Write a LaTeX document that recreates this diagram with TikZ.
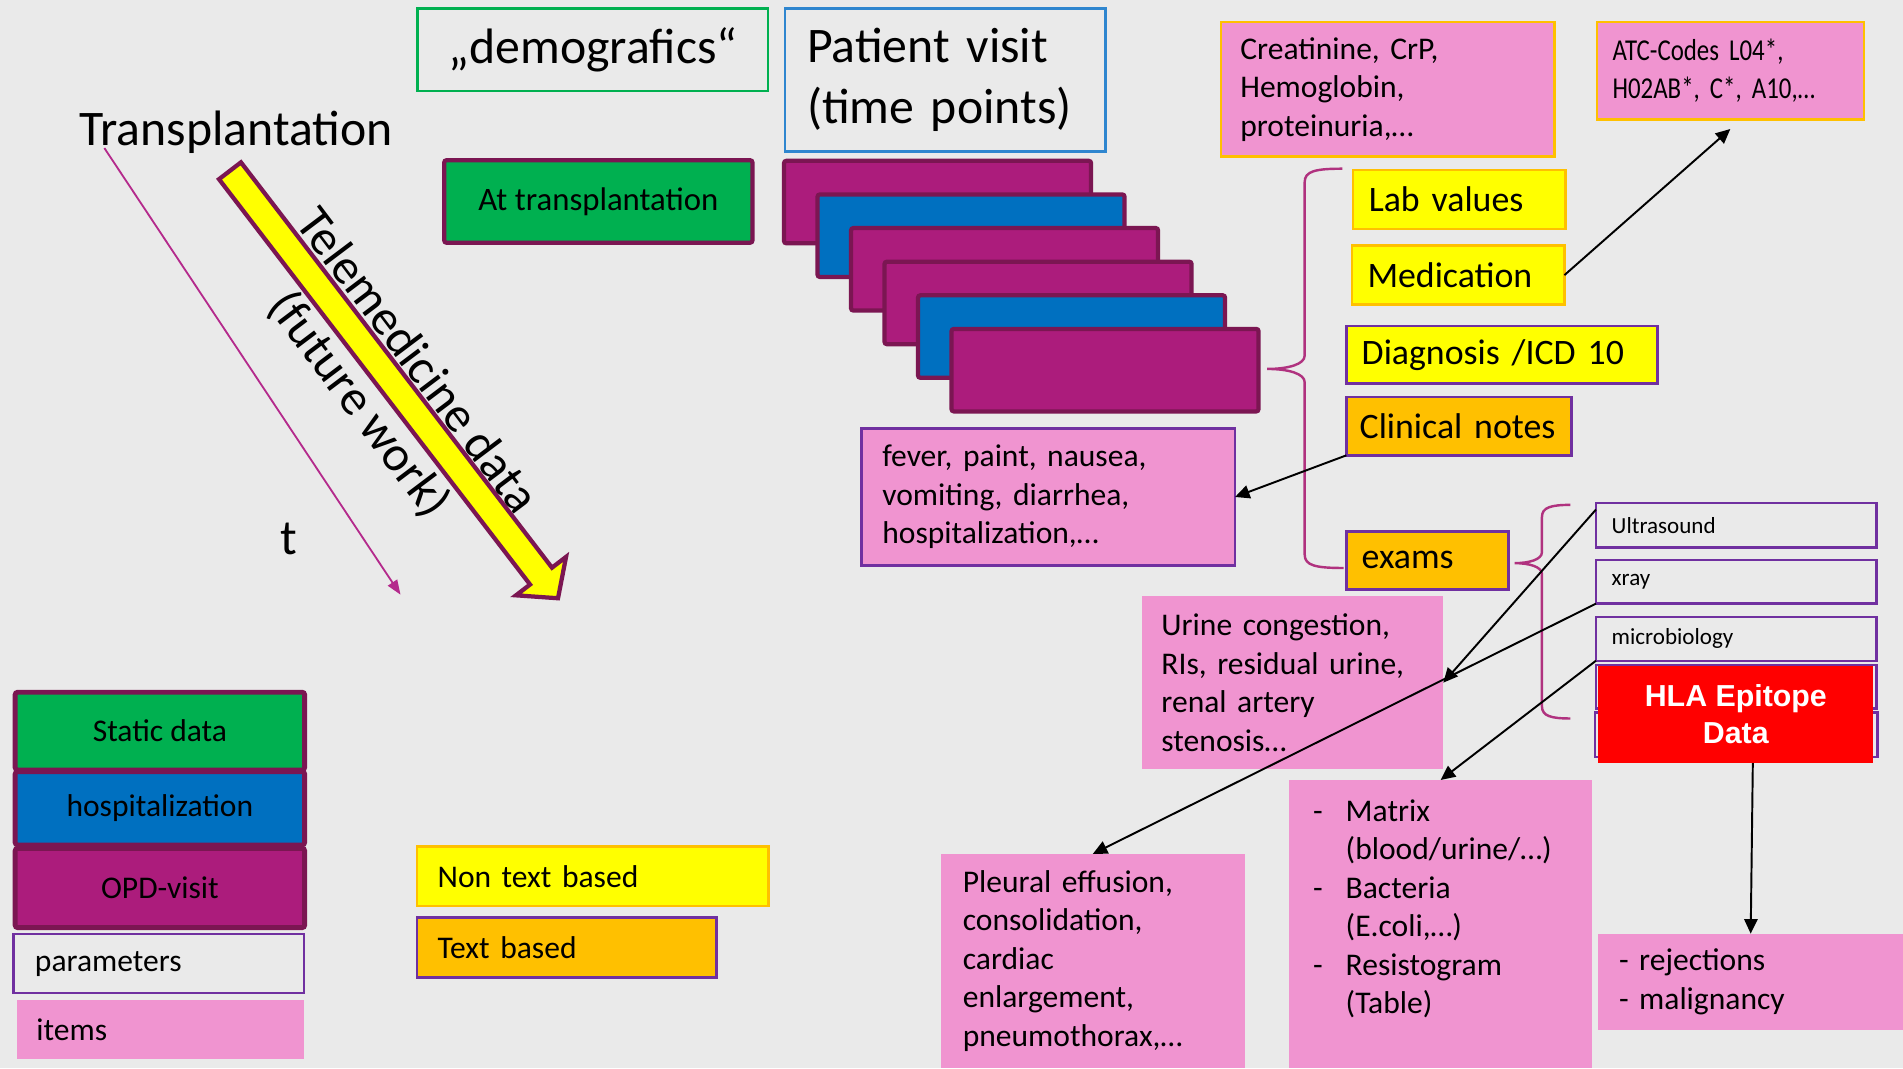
\documentclass[tikz,border=0pt]{standalone}
\usepackage{fontspec}
\setmainfont{Carlito}
\newfontfamily\hlafont{Liberation Sans}
\newfontfamily\narrowfont{Carlito}[FakeStretch=0.82]
\usetikzlibrary{arrows.meta}

\definecolor{bggray}{HTML}{EAEAEA}
\definecolor{stat}{HTML}{00B050}
\definecolor{hosp}{HTML}{0070C0}
\definecolor{opd}{HTML}{AC1C7C}
\definecolor{opdline}{HTML}{7B1652}
\definecolor{itempink}{HTML}{F094D0}
\definecolor{paraline}{HTML}{7030A0}
\definecolor{amber}{HTML}{FFC000}
\definecolor{yel}{HTML}{FFFF00}
\definecolor{bracecol}{HTML}{B0327F}
\definecolor{tline}{HTML}{B42A8C}
\definecolor{visitline}{HTML}{2F86CF}

\newcommand{\listdash}{\makebox[26.8pt][l]{-}}
\newcommand{\listgap}{\hspace*{26.8pt}}

\begin{document}
\begin{tikzpicture}[x=1pt,y=-1pt,>=Stealth,
  fbig/.style={font=\fontsize{41}{50}\selectfont},
  fmid/.style={font=\fontsize{29.5}{36}\selectfont},
  ftxt/.style={font=\fontsize{26}{31.7}\selectfont},
  fsmall/.style={font=\fontsize{19}{23}\selectfont},
  panel/.style={rectangle,anchor=north west,inner sep=0pt,outer sep=0pt},
  item/.style={panel,fill=itempink},
  param/.style={panel,draw=paraline,line width=2pt},
  legendbox/.style={panel,draw=opdline,line width=4pt,rounded corners=2pt,minimum width=238.5pt},
  conn/.style={-{Triangle[length=12pt,width=11pt]},line width=1.6pt,black},
  tarrow/.style={-{Triangle[length=12pt,width=9pt]},line width=1.5pt,tline}]

  \useasboundingbox (0,0) rectangle (1568,880);
  \fill[bggray] (0,0) rectangle (1568,880);

  % time axis and telemedicine arrow
  \node[fbig,anchor=base west,inner sep=0pt] (tx) at (65,120) {Transplantation};
  \node[fbig,anchor=base west,inner sep=0pt] (tlab) at (231,457) {t};
  \coordinate (tstart) at (86,122);
  \coordinate (tend) at (330,490);
  \draw[tarrow] (tstart) -- (tend);

  \begin{scope}[shift={(189.5,140.7)},rotate=-52.5]
    \draw[fill=yel,draw=opdline,line width=3.5pt] (0,-11.4) -- (421,-11.4) -- (421,-26) -- (444,0)
      -- (421,26) -- (421,11.4) -- (0,11.4) -- cycle;
  \end{scope}
  \node[rotate=-53,align=center,font=\fontsize{41}{60}\selectfont] (tele) at (319,316)
    {Telemedicine data\\(future work)};

  % headers
  \node[panel,draw=stat,line width=2pt,minimum width=289pt,minimum height=68pt,fbig] (demo) at (344,7) {„demografics“};
  \node[panel,draw=visitline,line width=2pt,minimum height=118pt,text width=228pt,inner xsep=18pt,align=left,fbig] (visit) at (647,7)
    {Patient visit\\(time points)};
  \node[panel,fill=stat,draw=opdline,line width=3.5pt,rounded corners=2pt,minimum width=254pt,minimum height=68pt,
    font=\fontsize{27}{33}\selectfont] (atx) at (366,132) {At transplantation};

  % stack of visits
  \foreach \c [count=\i from 0] in {opd,hosp,opd,opd,hosp,opd}
    \node[panel,fill=\c,draw=opdline,line width=3.5pt,rounded corners=2pt,minimum width=253pt,minimum height=68pt]
      (v\i) at (646+27.6*\i,132.5+27.7*\i) {};

  \node[item,draw=paraline,line width=2pt,text width=273.6pt,inner xsep=17pt,minimum height=113pt,align=left,ftxt] (fever) at (710,353)
    {fever, paint, nausea,\\vomiting, diarrhea,\\hospitalization,…};

  % data types
  \node[item,draw=amber,line width=2pt,text width=242.7pt,inner xsep=16pt,minimum height=111pt,align=left,ftxt] (creat) at (1006,18)
    {Creatinine, CrP,\\Hemoglobin,\\proteinuria,…};
  \node[item,draw=amber,line width=2pt,text width=194pt,inner xsep=13pt,minimum height=80pt,align=left,
    font=\narrowfont\fontsize{25}{31}\selectfont] (atc) at (1315.7,18.3) {ATC-Codes L04*,\\H02AB*, C*, A10,…};

  \node[panel,fill=yel,draw=amber,line width=2pt,text width=149.4pt,inner xsep=12.8pt,minimum height=48.3pt,align=left,fmid] (lab) at (1115,140.3) {Lab values};
  \node[panel,fill=yel,draw=amber,line width=2pt,text width=149.4pt,inner xsep=12.8pt,minimum height=48.6pt,align=left,fmid] (med) at (1114,202.4) {Medication};
  \node[panel,fill=yel,draw=paraline,line width=2pt,text width=231pt,inner xsep=12.7pt,minimum height=47.4pt,align=left,fmid] (diag) at (1109.3,268.6) {Diagnosis /ICD 10};
  \node[panel,fill=amber,draw=paraline,line width=2pt,text width=163.4pt,inner xsep=11pt,minimum height=48pt,align=left,fmid] (clin) at (1109.3,327.2) {Clinical notes};
  \node[panel,fill=amber,draw=paraline,line width=2pt,text width=108.6pt,inner xsep=12.4pt,minimum height=47.9pt,align=left,fmid] (exams) at (1109.6,437.8) {exams};

  % exams
  \node[param,text width=205pt,inner xsep=13pt,minimum height=36.5pt,align=left,fsmall] (us) at (1315,414.6) {Ultrasound};
  \node[param,text width=205pt,inner xsep=13pt,minimum height=36.1pt,align=left,fsmall] (xr) at (1315,461.3) {xray};
  \node[param,text width=205pt,inner xsep=13pt,minimum height=35.9pt,align=left,fsmall] (mb) at (1315,508.5) {microbiology};
  \node[param,minimum width=231pt,minimum height=35.6pt] (p4) at (1315,548) {};
  \node[param,minimum width=233pt,minimum height=36.3pt] (p5) at (1314,587.2) {};
  \node[panel,fill=red,text=white,minimum width=226.5pt,minimum height=80.3pt,align=center,
    font=\hlafont\bfseries\fontsize{25}{31}\selectfont] (hla) at (1317,548.4) {HLA Epitope\\Data};

  \node[item,text width=216.2pt,inner xsep=16pt,minimum height=143pt,align=left,ftxt] (urine) at (941,491)
    {Urine congestion,\\RIs, residual urine,\\renal artery\\stenosis…};
  \node[item,text width=214.2pt,inner xsep=18pt,minimum height=176.4pt,align=left,ftxt] (pleu) at (775.3,703.6)
    {Pleural effusion,\\consolidation,\\cardiac\\enlargement,\\pneumothorax,…};
  \node[item,minimum width=249.4pt,minimum height=237.3pt,ftxt] (mat) at (1062.3,642.7)
    {\parbox[c][237.3pt][t]{210pt}{\vspace*{12pt}\strut\listdash Matrix\\\listgap(blood/urine/…)\\\listdash Bacteria\\
      \listgap(E.coli,…)\\\listdash Resistogram\\\listgap(Table)}};
  \node[item,text width=217pt,inner xsep=17pt,minimum height=79.7pt,align=left,ftxt] (rej) at (1317,769.3)
    {- rejections\\- malignancy};

  % braces
  \draw[bracecol,line width=2pt] (1106,139) .. controls (1084,139) and (1075,141) .. (1075,150) -- (1075,293)
    .. controls (1075,300) and (1062,304) .. (1044,304) .. controls (1062,304) and (1075,308) .. (1075,315)
    -- (1075,457) .. controls (1075,466) and (1084,468) .. (1107,468);
  \draw[bracecol,line width=2pt] (1294,416) .. controls (1278,416) and (1270.5,418) .. (1270.5,426) -- (1270.5,455)
    .. controls (1270.5,461) and (1260,464) .. (1248,464) .. controls (1260,464) and (1270.5,467) .. (1270.5,473)
    -- (1270.5,582) .. controls (1270.5,590) and (1278,592) .. (1294,592);

  % legend
  \node[legendbox,fill=stat,minimum height=64pt,ftxt] (lstat) at (12.5,570.4) {Static data};
  \node[legendbox,fill=hosp,minimum height=60.4pt,ftxt] (lhosp) at (12.5,635.8) {hospitalization};
  \node[legendbox,fill=opd,minimum height=65.3pt,ftxt] (lopd) at (12.5,699) {OPD-visit};
  \node[param,text width=204pt,inner xsep=17.8pt,minimum height=48.9pt,align=left,ftxt] (lpar) at (11,769.5) {parameters};
  \node[item,text width=204.6pt,inner xsep=16pt,minimum height=48.8pt,align=left,ftxt] (litem) at (14,824) {items};
  \node[panel,fill=yel,draw=amber,line width=2pt,text width=255.6pt,inner xsep=17pt,minimum height=48.9pt,align=left,ftxt] (lnon) at (343.6,697.6) {Non text based};
  \node[panel,fill=amber,draw=paraline,line width=2pt,text width=212.7pt,inner xsep=17pt,minimum height=49.3pt,align=left,ftxt] (ltxt) at (343.6,756) {Text based};

  % connectors
  \draw[conn] (med.east) -- ([yshift=-8pt]atc.south);
  \draw[conn] (clin.south west) -- (fever.east);
  \draw[conn] ([yshift=13pt]us.west) -- (urine.east);
  \draw[conn] (xr.south west) -- (pleu.north);
  \draw[conn] (mb.south west) -- (mat.north);
  \draw[conn] ([xshift=14pt]hla.south) -- (rej.north);
\end{tikzpicture}
\end{document}
